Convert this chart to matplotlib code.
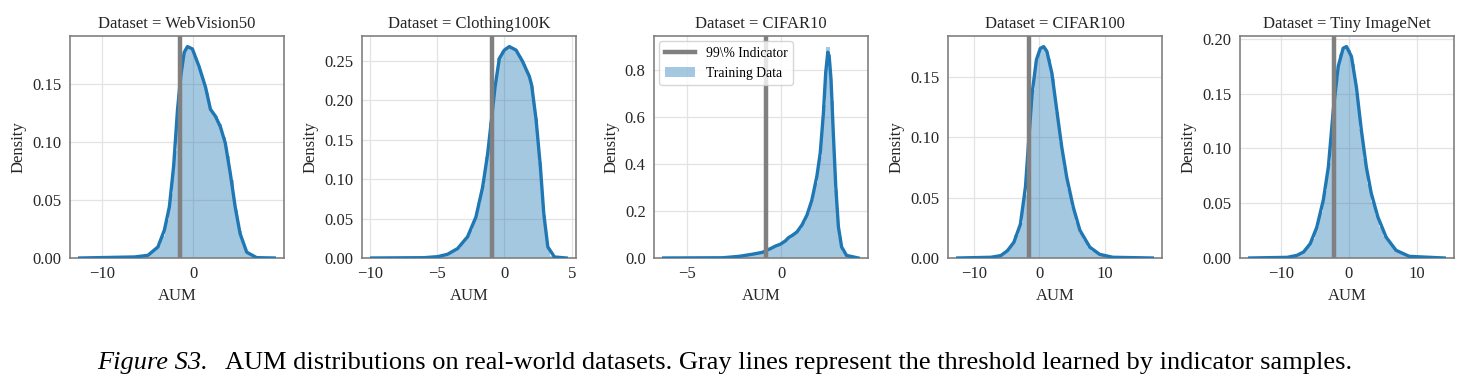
"""
AUM distributions on real-world datasets (histogram + KDE + indicator threshold).
"""
import numpy as np
import matplotlib.pyplot as plt
from matplotlib.ticker import MultipleLocator

plt.rcParams["font.family"] = ["Liberation Serif", "DejaVu Serif"]
plt.rcParams["axes.unicode_minus"] = True

DATASETS = ["WebVision50", "Clothing100K", "CIFAR10", "CIFAR100", "Tiny ImageNet"]

# threshold learned by indicator samples (gray line)
THRESHOLDS = [-1.5, -0.95, -0.8, -1.6, -2.2]

# data range of each histogram (48 equal bins)
HIST_RANGE = [(-12.5, 8.9), (-9.85, 4.6), (-6.22, 4.06), (-12.5, 17.3), (-14.63, 14.1)]

HIST_WEBVISION = [0.0001] * 12 + [
    0.0005, 0.0009, 0.0012, 0.0016, 0.002, 0.004, 0.007, 0.011, 0.019, 0.033,
    0.055, 0.092, 0.141, 0.171, 0.181, 0.181, 0.174, 0.164, 0.154, 0.142,
    0.127, 0.122, 0.115, 0.104, 0.088, 0.067, 0.041, 0.023, 0.011, 0.004,
    0.0015, 0.0004, 0.0001, 0, 0, 0]
HIST_CLOTHING = [0.0001] * 10 + [
    0.0002, 0.0003, 0.0004, 0.0006, 0.0009, 0.0013, 0.002, 0.003, 0.0045, 0.007,
    0.0095, 0.013, 0.019, 0.026, 0.036, 0.049, 0.068, 0.093, 0.128, 0.173,
    0.219, 0.253, 0.262, 0.267, 0.267, 0.264, 0.256, 0.246, 0.234, 0.218,
    0.178, 0.122, 0.055, 0.014, 0.003, 0.001, 0.0003, 0]
HIST_CIFAR10 = [0.0002] * 10 + [
    0.0004, 0.0004, 0.0004, 0.0004, 0.001, 0.0015, 0.002, 0.004, 0.006, 0.009,
    0.012, 0.015, 0.018, 0.021, 0.025, 0.033, 0.041, 0.050, 0.057, 0.067,
    0.081, 0.094, 0.106, 0.125, 0.154, 0.19, 0.245, 0.32, 0.43, 0.65,
    0.9, 0.67, 0.29, 0.09, 0.025, 0.008, 0.003, 0.001]
HIST_CIFAR100 = [0.0001] * 6 + [
    0.0003, 0.0004, 0.0007, 0.001, 0.0019, 0.004, 0.007, 0.011, 0.019, 0.029,
    0.052, 0.097, 0.139, 0.165, 0.174, 0.174, 0.165, 0.148, 0.121, 0.096,
    0.075, 0.057, 0.042, 0.030, 0.021, 0.015, 0.0095, 0.006, 0.004, 0.0025,
    0.0018, 0.0012, 0.0007, 0.0004, 0.0002, 0.0002, 0.0002, 0.0002,
    0.0001, 0.0001, 0.0001, 0.0001]
HIST_TINY = [0.0001] * 7 + [
    0.0002, 0.0004, 0.0007, 0.0013, 0.0022, 0.004, 0.006, 0.011, 0.017, 0.028,
    0.042, 0.061, 0.087, 0.13, 0.165, 0.186, 0.193, 0.19, 0.177, 0.151,
    0.118, 0.09, 0.068, 0.051, 0.039, 0.028, 0.02, 0.014, 0.0095, 0.006,
    0.0037, 0.0022, 0.0014, 0.0009, 0.0005, 0.0003, 0.0002, 0.0002, 0.0002,
    0.0001, 0.0001]
HIST_HEIGHTS = [HIST_WEBVISION, HIST_CLOTHING, HIST_CIFAR10, HIST_CIFAR100, HIST_TINY]

# KDE curves
KDE_X_WEBVISION = [-12.5, -6.45, -5.0, -3.9, -3.19, -2.64, -2.17, -1.74, -1.38, -1.01,
                   -0.65, -0.11, 0.62, 1.34, 1.88, 2.43, 2.97, 3.51, 4.06, 4.6, 5.14,
                   5.87, 6.96, 8.9]
KDE_Y_WEBVISION = [0, 0.0009, 0.0023, 0.0095, 0.024, 0.044, 0.079, 0.128, 0.157, 0.177,
                   0.182, 0.180, 0.165, 0.147, 0.128, 0.122, 0.113, 0.099, 0.073, 0.044,
                   0.021, 0.005, 0.0003, 0]
KDE_X_CLOTHING = [-9.85, -5.96, -4.96, -4.22, -3.47, -2.73, -2.11, -1.61, -1.24, -0.99,
                  -0.69, -0.37, 0.0, 0.37, 0.87, 1.36, 1.86, 2.03, 2.36, 2.68, 2.93,
                  3.23, 3.72, 4.6]
KDE_Y_CLOTHING = [0, 0.0004, 0.0017, 0.0047, 0.012, 0.027, 0.052, 0.090, 0.132, 0.170,
                  0.217, 0.253, 0.2635, 0.268, 0.2635, 0.249, 0.230, 0.219, 0.175,
                  0.115, 0.056, 0.014, 0.0013, 0]
KDE_X_CIFAR10 = [-6.22, -3.11, -2.24, -1.54, -1.01, -0.58, -0.31, -0.05, 0.21, 0.38,
                 0.59, 0.82, 1.08, 1.35, 1.61, 1.87, 2.05, 2.22, 2.34, 2.45, 2.52,
                 2.62, 2.74, 2.87, 3.01, 3.18, 3.44, 4.06]
KDE_Y_CIFAR10 = [0, 0.001, 0.007, 0.016, 0.024, 0.04, 0.051, 0.059, 0.073, 0.087,
                 0.097, 0.111, 0.14, 0.183, 0.247, 0.347, 0.447, 0.619, 0.79, 0.876,
                 0.861, 0.761, 0.533, 0.304, 0.133, 0.047, 0.011, 0]
KDE_X_CIFAR100 = [-12.5, -7.4, -5.9, -4.9, -3.9, -2.9, -2.12, -1.62, -1.11, -0.45,
                  0.15, 0.66, 1.16, 1.92, 2.68, 3.43, 4.19, 5.2, 6.21, 7.73, 9.24,
                  11.26, 17.3]
KDE_Y_CIFAR100 = [0, 0.0006, 0.002, 0.006, 0.013, 0.028, 0.059, 0.098, 0.136, 0.164,
                  0.1735, 0.175, 0.171, 0.153, 0.122, 0.092, 0.067, 0.042, 0.023,
                  0.009, 0.003, 0.0006, 0]
KDE_X_TINY = [-14.63, -9.1, -7.66, -6.68, -5.7, -4.73, -3.76, -3.02, -2.29, -1.56,
              -0.83, -0.34, 0.39, 1.12, 1.85, 2.59, 3.32, 4.29, 5.51, 6.98, 8.93, 14.1]
KDE_Y_TINY = [0, 0.0006, 0.0024, 0.0055, 0.013, 0.028, 0.053, 0.083, 0.135, 0.175,
              0.1915, 0.193, 0.184, 0.156, 0.117, 0.083, 0.059, 0.0375, 0.019, 0.007,
              0.0015, 0]
KDE_X = [KDE_X_WEBVISION, KDE_X_CLOTHING, KDE_X_CIFAR10, KDE_X_CIFAR100, KDE_X_TINY]
KDE_Y = [KDE_Y_WEBVISION, KDE_Y_CLOTHING, KDE_Y_CIFAR10, KDE_Y_CIFAR100, KDE_Y_TINY]

X_TICK_STEP = [10, 5, 5, 10, 10]
Y_TICK_STEP = [0.05, 0.05, 0.2, 0.05, 0.05]
Y_FORMAT = ["{:.2f}", "{:.2f}", "{:.1f}", "{:.2f}", "{:.2f}"]

BLUE = "#1f77b4"
GRAY = "#808080"
TEXT = "#262626"

W, H = 1467, 380
fig = plt.figure(figsize=(W / 100, H / 100), dpi=100)

lefts = [70, 362, 654, 948, 1240]
ax_w, ax_top, ax_bot = 214, 36, 258

for i, name in enumerate(DATASETS):
    ax = fig.add_axes([lefts[i] / W, 1 - ax_bot / H, ax_w / W, (ax_bot - ax_top) / H])
    lo, hi = HIST_RANGE[i]
    edges = np.linspace(lo, hi, len(HIST_HEIGHTS[i]) + 1)
    ax.bar(edges[:-1], HIST_HEIGHTS[i], width=np.diff(edges), align="edge",
           color=BLUE, alpha=0.4, linewidth=0, label="Training Data", zorder=2)
    ax.plot(KDE_X[i], KDE_Y[i], color=BLUE, lw=2.4, zorder=3,
            solid_joinstyle="round")
    ax.axvline(THRESHOLDS[i], color=GRAY, lw=3.2, zorder=4, label="99\\% Indicator")

    pad = 0.05 * (hi - lo)
    ax.set_xlim(lo - pad, hi + pad)
    ymax = max(max(HIST_HEIGHTS[i]), max(KDE_Y[i]))
    ax.set_ylim(0, ymax * 1.05)
    ax.xaxis.set_major_locator(MultipleLocator(X_TICK_STEP[i]))
    ax.yaxis.set_major_locator(MultipleLocator(Y_TICK_STEP[i]))
    fmt = Y_FORMAT[i]
    ax.yaxis.set_major_formatter(plt.FuncFormatter(lambda v, p, f=fmt: f.format(v)))

    ax.grid(True, color="#e3e3e3", lw=0.9, zorder=0)
    ax.set_axisbelow(True)
    for sp in ax.spines.values():
        sp.set_color(GRAY)
        sp.set_linewidth(1.2)
    ax.tick_params(length=0, labelsize=12, colors=TEXT, pad=6)
    ax.set_title(f"Dataset = {name}", fontsize=12, color=TEXT, pad=6)
    ax.set_xlabel("AUM", fontsize=12, color=TEXT, labelpad=4)
    ax.set_ylabel("Density", fontsize=12, color=TEXT, labelpad=4)

    if name == "CIFAR10":
        ax.legend(loc="upper left", fontsize=9.8, frameon=True, edgecolor="#cccccc",
                  borderaxespad=0.4, handlelength=2.2)

fig.text(97 / W, 1 - 363 / H, "Figure S3.", fontsize=19, style="italic",
         ha="left", va="center", color="black")
fig.text(225 / W, 1 - 363 / H,
         "AUM distributions on real-world datasets. Gray lines represent the "
         "threshold learned by indicator samples.",
         fontsize=19, ha="left", va="center", color="black")

fig.savefig("out.png", dpi=100)
